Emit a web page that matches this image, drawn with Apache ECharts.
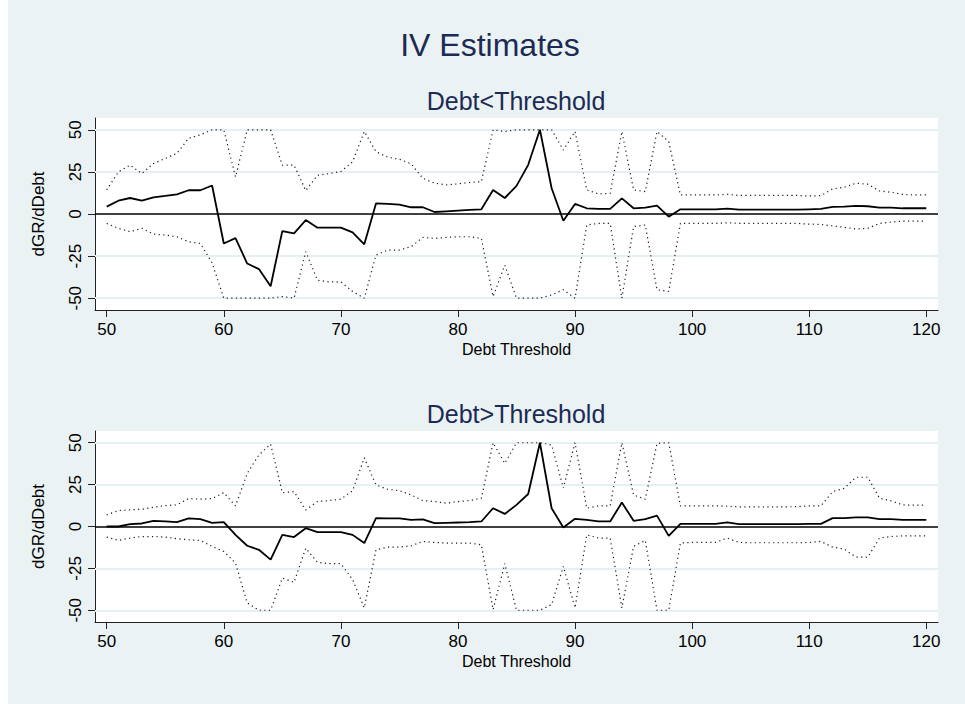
<!DOCTYPE html>
<html>
<head>
<meta charset="utf-8">
<script src="https://cdn.jsdelivr.net/npm/echarts@6/dist/echarts.min.js"></script>
<style>
html,body{margin:0;padding:0;background:#ffffff;}
#chart{width:965px;height:704px;}
</style>
</head>
<body>
<div id="chart"></div>
<script>
// Debt thresholds (x values)
const thresholds = [];
for (let t = 50; t <= 120; t++) thresholds.push(t);

const xTickLabels = [50, 60, 70, 80, 90, 100, 110, 120];
const yTickLabels = [-50, -25, 0, 25, 50];

// Panel 1: Debt<Threshold
const est1 = [4.4,7.9,9.5,7.9,9.9,10.7,11.7,14.1,14.1,16.9,
  -17.5,-14.3,-29.4,-32.7,-42.9,-10.1,-11.5,-3.6,-8.1,-8.1,
  -8.1,-10.9,-18,6.3,6,5.6,4,4,1.2,1.6,
  2,2.4,2.8,14.3,9.5,16.7,29.2,50,15.3,-4,
  6,3.4,3,3,9.3,3.4,3.8,5,-1.6,2.8,
  2.8,2.8,2.8,3.2,2.6,2.6,2.6,2.6,2.6,2.6,
  2.8,3,4.2,4.4,4.8,4.6,3.8,3.8,3.4,3.4,3.4];
const upper1 = [14.3,25,29,24,30,33,36,45,47,50,
  50,22,50,50,50,29,29,13.9,23,24,
  25.2,31,49,37,33.7,32.5,29.8,21.2,18.3,17.3,
  17.9,18.7,19.2,50,49,50,50,50,50,38,
  49,14.3,11.9,12.3,49,14.3,13.3,49,43,11.3,
  11.3,11.3,11.3,11.7,11,11,11,11,11,11,
  10.7,10.9,14.9,15.9,18.3,17.7,13.7,12.9,11.7,11.3,11.3];
const lower1 = [-5.6,-8.5,-10.5,-8.5,-11.9,-12.5,-13.5,-16.5,-17.5,-29,
  -50,-50,-50,-50,-50,-49,-50,-22.4,-39.3,-40.3,
  -40.3,-46,-50,-24.4,-21.4,-21.4,-19.4,-13.9,-14.5,-13.9,
  -13.5,-13.5,-14.5,-49,-30.4,-50,-50,-50,-48,-45,
  -50,-6.5,-5.6,-5.6,-50,-7.5,-6.5,-45,-46,-5.6,
  -5.6,-5.6,-5.6,-5.2,-5.6,-5.6,-5.6,-5.6,-5.6,-5.6,
  -6,-6.2,-7.1,-7.9,-8.9,-8.5,-5.6,-4.8,-4.2,-4.2,-4.2];

// Panel 2: Debt>Threshold
const est2 = [0,0,1.4,1.8,3.4,3,2.6,4.8,4.4,2.2,
  2.6,-5,-11.5,-13.9,-19.8,-5,-6.3,-1,-3.4,-3.4,
  -3.4,-5,-9.9,5,4.8,4.8,4,4.2,2,2.2,
  2.4,2.6,3,10.9,7.5,12.9,19.4,50,10.9,-0.6,
  4.6,4,3,3,14.3,3.4,4.4,6.5,-5.6,1.6,
  1.6,1.6,1.6,2.4,1.4,1.4,1.4,1.4,1.4,1.4,
  1.6,1.6,5,5,5.4,5.4,4.4,4.4,4,4,4];
const upper2 = [6.9,9.5,9.9,10.3,11.5,12.5,12.9,16.7,16.3,16.7,
  20.2,12.3,31.7,42.7,49.2,20.2,20.8,9.9,14.9,15.5,
  16.3,21.4,41,24.8,22.2,21.4,18.8,15.5,14.9,13.9,
  14.9,15.5,16.9,50,37.7,50,50,50,48.6,23,
  50,10.9,12.3,12.3,50,18.8,16.3,49.6,50,12.3,
  12.3,12.3,12.3,12.1,11.7,11.7,11.7,11.7,11.7,11.9,
  12.3,12.3,20.8,22.8,29.4,29.4,16.9,15.3,12.9,12.7,12.7];
const lower2 = [-6.3,-8.3,-6.9,-6,-6,-6.3,-7.3,-7.9,-8.3,-11.9,
  -14.9,-21.8,-45.6,-50,-50,-30.8,-33.3,-12.9,-21.4,-22.2,
  -22.2,-31.7,-48.6,-13.9,-12.3,-12.3,-11.5,-8.9,-9.5,-9.9,
  -9.9,-9.9,-10.9,-49.6,-22.2,-50,-50,-50,-46.6,-23.8,
  -48.6,-5,-6.9,-6.9,-48.6,-11.9,-8.3,-50,-50,-9.9,
  -9.5,-9.5,-9.5,-6.9,-9.5,-9.7,-9.7,-9.7,-9.7,-9.7,
  -9.5,-8.9,-12.3,-13.5,-18.3,-18.3,-6.9,-6,-5.6,-5.6,-5.6];

const FONT = "'Liberation Sans', Arial, Helvetica, sans-serif";
const NAVY = '#1c2b55';
const GRIDC = '#e6eff2';

function pairs(vals) { return thresholds.map((t, i) => [t, vals[i]]); }

const grids = [
  {left: 95, right: 27, top: 118, height: 192},
  {left: 95, right: 27, top: 431, height: 191}
];

function xAxis(idx) {
  return {
    type: 'value', gridIndex: idx, min: 49, max: 121,
    name: 'Debt Threshold', nameLocation: 'middle', nameGap: 31,
    nameTextStyle: {fontFamily: FONT, fontSize: 16, color: '#000'},
    axisLine: {show: true, onZero: false, lineStyle: {color: '#222', width: 1}},
    axisTick: {show: true, length: 7, customValues: xTickLabels, lineStyle: {color: '#222'}},
    axisLabel: {customValues: xTickLabels, fontFamily: FONT, fontSize: 17, color: '#000', margin: 11},
    splitLine: {show: false}
  };
}
function yAxis(idx) {
  return {
    type: 'value', gridIndex: idx, min: -57, max: 57,
    name: 'dGR/dDebt', nameLocation: 'middle', nameGap: 48, nameRotate: 90,
    nameTextStyle: {fontFamily: FONT, fontSize: 17, color: '#000'},
    axisLine: {show: true, onZero: false, lineStyle: {color: '#222', width: 1}},
    axisTick: {show: true, length: 7, customValues: yTickLabels, lineStyle: {color: '#222'}},
    axisLabel: {customValues: yTickLabels, rotate: 90, fontFamily: FONT, fontSize: 17, color: '#000', margin: 11},
    splitLine: {show: false}
  };
}

function panelSeries(idx, est, up, lo) {
  const dotted = {color: '#1a1a1a', width: 1.2, type: [1.2, 3.4]};
  return [
    { // background grid lines
      type: 'line', xAxisIndex: idx, yAxisIndex: idx, data: [], z: 1, silent: true,
      markLine: {silent: true, z: 1, symbol: 'none', label: {show: false},
        lineStyle: {color: GRIDC, width: 2, type: 'solid'},
        data: yTickLabels.filter(v => v !== 0).map(v => ({yAxis: v}))}
    },
    {
      type: 'line', xAxisIndex: idx, yAxisIndex: idx, data: pairs(up), showSymbol: false,
      lineStyle: dotted, z: 3, silent: true
    },
    {
      type: 'line', xAxisIndex: idx, yAxisIndex: idx, data: pairs(lo), showSymbol: false,
      lineStyle: dotted, z: 3, silent: true
    },
    {
      type: 'line', xAxisIndex: idx, yAxisIndex: idx, data: pairs(est), showSymbol: false,
      lineStyle: {color: '#000', width: 1.8}, z: 4, silent: true,
      markLine: {silent: true, z: 4, symbol: 'none', label: {show: false},
        lineStyle: {color: '#000', width: 1.6, type: 'solid'},
        data: [{yAxis: 0}]}
    }
  ];
}

const chart = echarts.init(document.getElementById('chart'), null, {renderer: 'svg', width: 965, height: 704});
chart.setOption({
  backgroundColor: '#eaf2f3',
  animation: false,
  title: [
    {text: 'IV Estimates', left: 490, top: 29, textAlign: 'center', padding: 0,
      textStyle: {fontFamily: FONT, fontSize: 32, fontWeight: 'normal', color: NAVY, lineHeight: 32}},
    {text: 'Debt<Threshold', left: 516, top: 88, textAlign: 'center', padding: 0,
      textStyle: {fontFamily: FONT, fontSize: 25, fontWeight: 'normal', color: NAVY, lineHeight: 25}},
    {text: 'Debt>Threshold', left: 516, top: 401, textAlign: 'center', padding: 0,
      textStyle: {fontFamily: FONT, fontSize: 25, fontWeight: 'normal', color: NAVY, lineHeight: 25}}
  ],
  graphic: [{type: 'rect', left: 0, top: 0, shape: {width: 8, height: 704}, style: {fill: '#ffffff'}, silent: true}],
  grid: grids.map(g => Object.assign({show: true, backgroundColor: '#ffffff', borderWidth: 0}, g)),
  xAxis: [xAxis(0), xAxis(1)],
  yAxis: [yAxis(0), yAxis(1)],
  series: [].concat(panelSeries(0, est1, upper1, lower1), panelSeries(1, est2, upper2, lower2))
});
</script>
</body>
</html>
